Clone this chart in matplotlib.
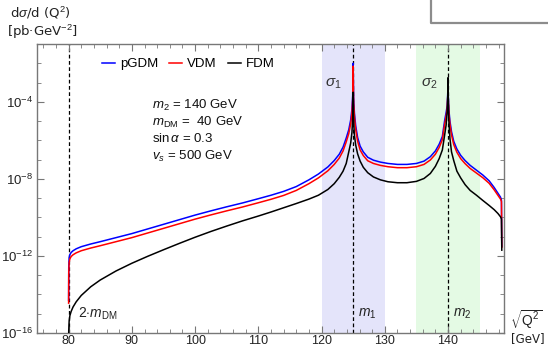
import matplotlib
matplotlib.use("Agg")
import numpy as np
import matplotlib.pyplot as plt
from matplotlib.lines import Line2D
from matplotlib.ticker import FixedLocator, NullFormatter

plt.rcParams['font.family'] = ['Liberation Sans', 'DejaVu Sans']
plt.rcParams['mathtext.fontset'] = 'custom'
plt.rcParams['mathtext.rm'] = 'Liberation Sans'
plt.rcParams['mathtext.it'] = 'Liberation Sans:italic'

# sqrt(Q^2) in GeV, shared by all three models
q = [80.0, 80.02, 80.08, 80.2, 80.4, 80.7, 81.2, 82, 83.5, 85, 87.5, 90, 92.5, 95, 97.5,
     100, 102.5, 105, 107.5, 110, 112, 114, 116, 118, 119.5, 121, 122, 122.8, 123.4,
     123.9, 124.3, 124.6, 124.8, 124.92, 124.97, 125.0, 125.03, 125.08, 125.2, 125.4,
     125.7, 126.1, 126.6, 127.3, 128.2, 129.3, 130.5, 132, 133.5, 135, 136.2, 137.2,
     138.0, 138.6, 139.1, 139.45, 139.7, 139.87, 139.96, 140.0, 140.04, 140.13, 140.3,
     140.55, 140.9, 141.4, 142.0, 142.7, 143.5, 144.5, 145.5, 146.5, 147.3, 147.9,
     148.3, 148.45, 148.5]

# log10 of dsigma/dQ^2 [pb GeV^-2]
log_pgdm = [-14.3, -12.6, -12.1, -11.93, -11.82, -11.73, -11.63, -11.52, -11.38, -11.26,
            -11.05, -10.84, -10.6, -10.36, -10.12, -9.88, -9.66, -9.45, -9.25, -9.03,
            -8.85, -8.65, -8.4, -8.05, -7.75, -7.38, -7.05, -6.72, -6.35, -5.88, -5.45,
            -4.95, -4.4, -3.7, -2.9, -2.0, -3.0, -3.9, -4.6, -5.25, -5.85, -6.3, -6.6,
            -6.88, -7.03, -7.13, -7.2, -7.25, -7.25, -7.2, -7.08, -6.85, -6.55, -6.2,
            -5.8, -5.0, -4.55, -4.2, -3.5, -3.0, -3.7, -4.4, -5.0, -5.55, -6.05, -6.45,
            -6.78, -7.05, -7.3, -7.55, -7.8, -8.1, -8.45, -8.75, -8.95, -9.1, -11.5]
log_vdm = [-14.45, -12.9, -12.35, -12.15, -12.03, -11.94, -11.84, -11.73, -11.59, -11.47,
           -11.26, -11.05, -10.81, -10.57, -10.33, -10.09, -9.87, -9.66, -9.46, -9.24,
           -9.06, -8.86, -8.6, -8.25, -7.95, -7.58, -7.25, -6.92, -6.55, -6.08, -5.65,
           -5.15, -4.6, -3.9, -3.1, -2.15, -3.2, -4.1, -4.8, -5.45, -6.05, -6.5, -6.79,
           -7.06, -7.2, -7.3, -7.37, -7.42, -7.42, -7.37, -7.25, -7.02, -6.72, -6.37,
           -5.97, -5.2, -4.75, -4.37, -3.67, -3.1, -3.87, -4.57, -5.17, -5.72, -6.22,
           -6.62, -6.95, -7.21, -7.46, -7.7, -7.94, -8.23, -8.57, -8.86, -9.05, -9.18,
           -11.55]
log_fdm = [-17.0, -15.9, -15.4, -15.1, -14.88, -14.65, -14.38, -14.05, -13.6, -13.25,
           -12.78, -12.38, -12.02, -11.68, -11.35, -11.03, -10.73, -10.45, -10.18, -9.93,
           -9.72, -9.5, -9.28, -9.05, -8.85, -8.55, -8.25, -7.92, -7.6, -7.2, -6.6, -6.15,
           -5.6, -4.9, -4.2, -3.5, -4.3, -5.1, -5.75, -6.25, -6.7, -7.08, -7.4, -7.68,
           -7.9, -8.05, -8.15, -8.2, -8.2, -8.13, -7.98, -7.72, -7.35, -6.95, -6.5, -5.75,
           -5.2, -4.5, -3.7, -2.75, -4.0, -5.0, -5.9, -6.6, -7.05, -7.6, -7.95, -8.3,
           -8.6, -8.85, -9.12, -9.38, -9.6, -9.8, -9.97, -10.08, -11.7]

m_dm = 40
m1, m2 = 125, 140
band1 = (120, 130)
band2 = (135, 145)

fig = plt.figure(figsize=(5.48, 3.48), dpi=100)
ax = fig.add_axes([37 / 548, 15 / 348, 467 / 548, 289 / 348])

ax.axvspan(*band1, color='#e4e4fa', lw=0, zorder=0)
ax.axvspan(*band2, color='#e4fae4', lw=0, zorder=0)
for xv in (2 * m_dm, m1, m2):
    ax.axvline(xv, color='black', ls=(0, (3, 2)), lw=0.9, zorder=1)

q = np.array(q)
ax.plot(q, 10.0 ** np.array(log_pgdm), color='#0000ff', lw=1.1, label='pGDM', zorder=3)
ax.plot(q, 10.0 ** np.array(log_vdm), color='#ff0000', lw=1.1, label='VDM', zorder=4)
ax.plot(q, 10.0 ** np.array(log_fdm), color='black', lw=1.1, label='FDM', zorder=5)

ax.set_yscale('log')
ax.set_xlim(75, 148.85)
ax.set_ylim(1e-16, 1e-1)

ax.set_xticks([80, 90, 100, 110, 120, 130, 140])
ax.xaxis.set_minor_locator(FixedLocator(np.arange(76, 149, 2)))
ax.set_yticks([1e-16, 1e-12, 1e-8, 1e-4])
ax.set_yticklabels([r'$10^{-16}$', r'$10^{-12}$', r'$10^{-8}$', r'$10^{-4}$'])
ax.yaxis.set_minor_locator(FixedLocator([10.0 ** k for k in range(-16, 0)]))
ax.yaxis.set_minor_formatter(NullFormatter())

frame = '#777777'
for s in ax.spines.values():
    s.set_color(frame)
    s.set_linewidth(1.0)
ax.tick_params(which='both', direction='in', top=True, right=True, color=frame,
               labelcolor='#222222', labelsize=9.5, pad=3)
ax.tick_params(axis='x', pad=1.5, labelsize=9)
ax.tick_params(which='major', length=5, width=0.8)
ax.tick_params(which='minor', length=3, width=0.6)

ax.legend(loc='center', bbox_to_anchor=(0.324, 0.93), ncol=3, frameon=False,
          fontsize=9.5, handlelength=1.0, handletextpad=0.35, columnspacing=0.85)


# texts placed in pixel coordinates from the top-left corner
def px(x, y):
    return x / 548, 1 - y / 348


params = [r'$m_2$ = 140 GeV', r'$m_{\rm DM}$ =  40 GeV', r'sin$\,\alpha$ = 0.3',
          r'$v_s$ = 500 GeV']
for i, line in enumerate(params):
    fig.text(*px(152, 105 + 17 * i), line, fontsize=9.5, va='center', color='#111111')

fig.text(*px(333, 84), r'$\sigma_1$', fontsize=11, color='#333333', ha='center', va='center')
fig.text(*px(429, 84), r'$\sigma_2$', fontsize=11, color='#333333', ha='center', va='center')
fig.text(*px(367, 314), r'$m_1$', fontsize=10, color='#222222', ha='center', va='center')
fig.text(*px(462, 314), r'$m_2$', fontsize=10, color='#222222', ha='center', va='center')
fig.text(*px(78, 314), r'2$\cdot m_{\rm DM}$', fontsize=10, color='#222222',
         ha='left', va='center')

fig.text(*px(10, 13), 'd' + r'$\sigma$' + '/d (Q$^2$)', fontsize=9.5, family='DejaVu Sans',
         color='#222222', va='center')
fig.text(*px(7, 32), '[pb·GeV$^{-2}$]', fontsize=9.5, family='DejaVu Sans',
         color='#222222', va='center')
fig.text(*px(526, 320), r'$\sqrt{\mathrm{Q}^2}$', fontsize=10, color='#222222',
         ha='center', va='center')
fig.text(*px(528, 339), '[GeV]', fontsize=8.5, family='DejaVu Sans', color='#222222',
         ha='center', va='center')

# corner bracket at the top right
fig.add_artist(Line2D([430.5 / 548, 430.5 / 548, 1.0], [1.0, 1 - 23 / 348, 1 - 23 / 348],
                      transform=fig.transFigure, color='#8c8c8c', lw=1.6))

fig.savefig('out.png', dpi=100)
